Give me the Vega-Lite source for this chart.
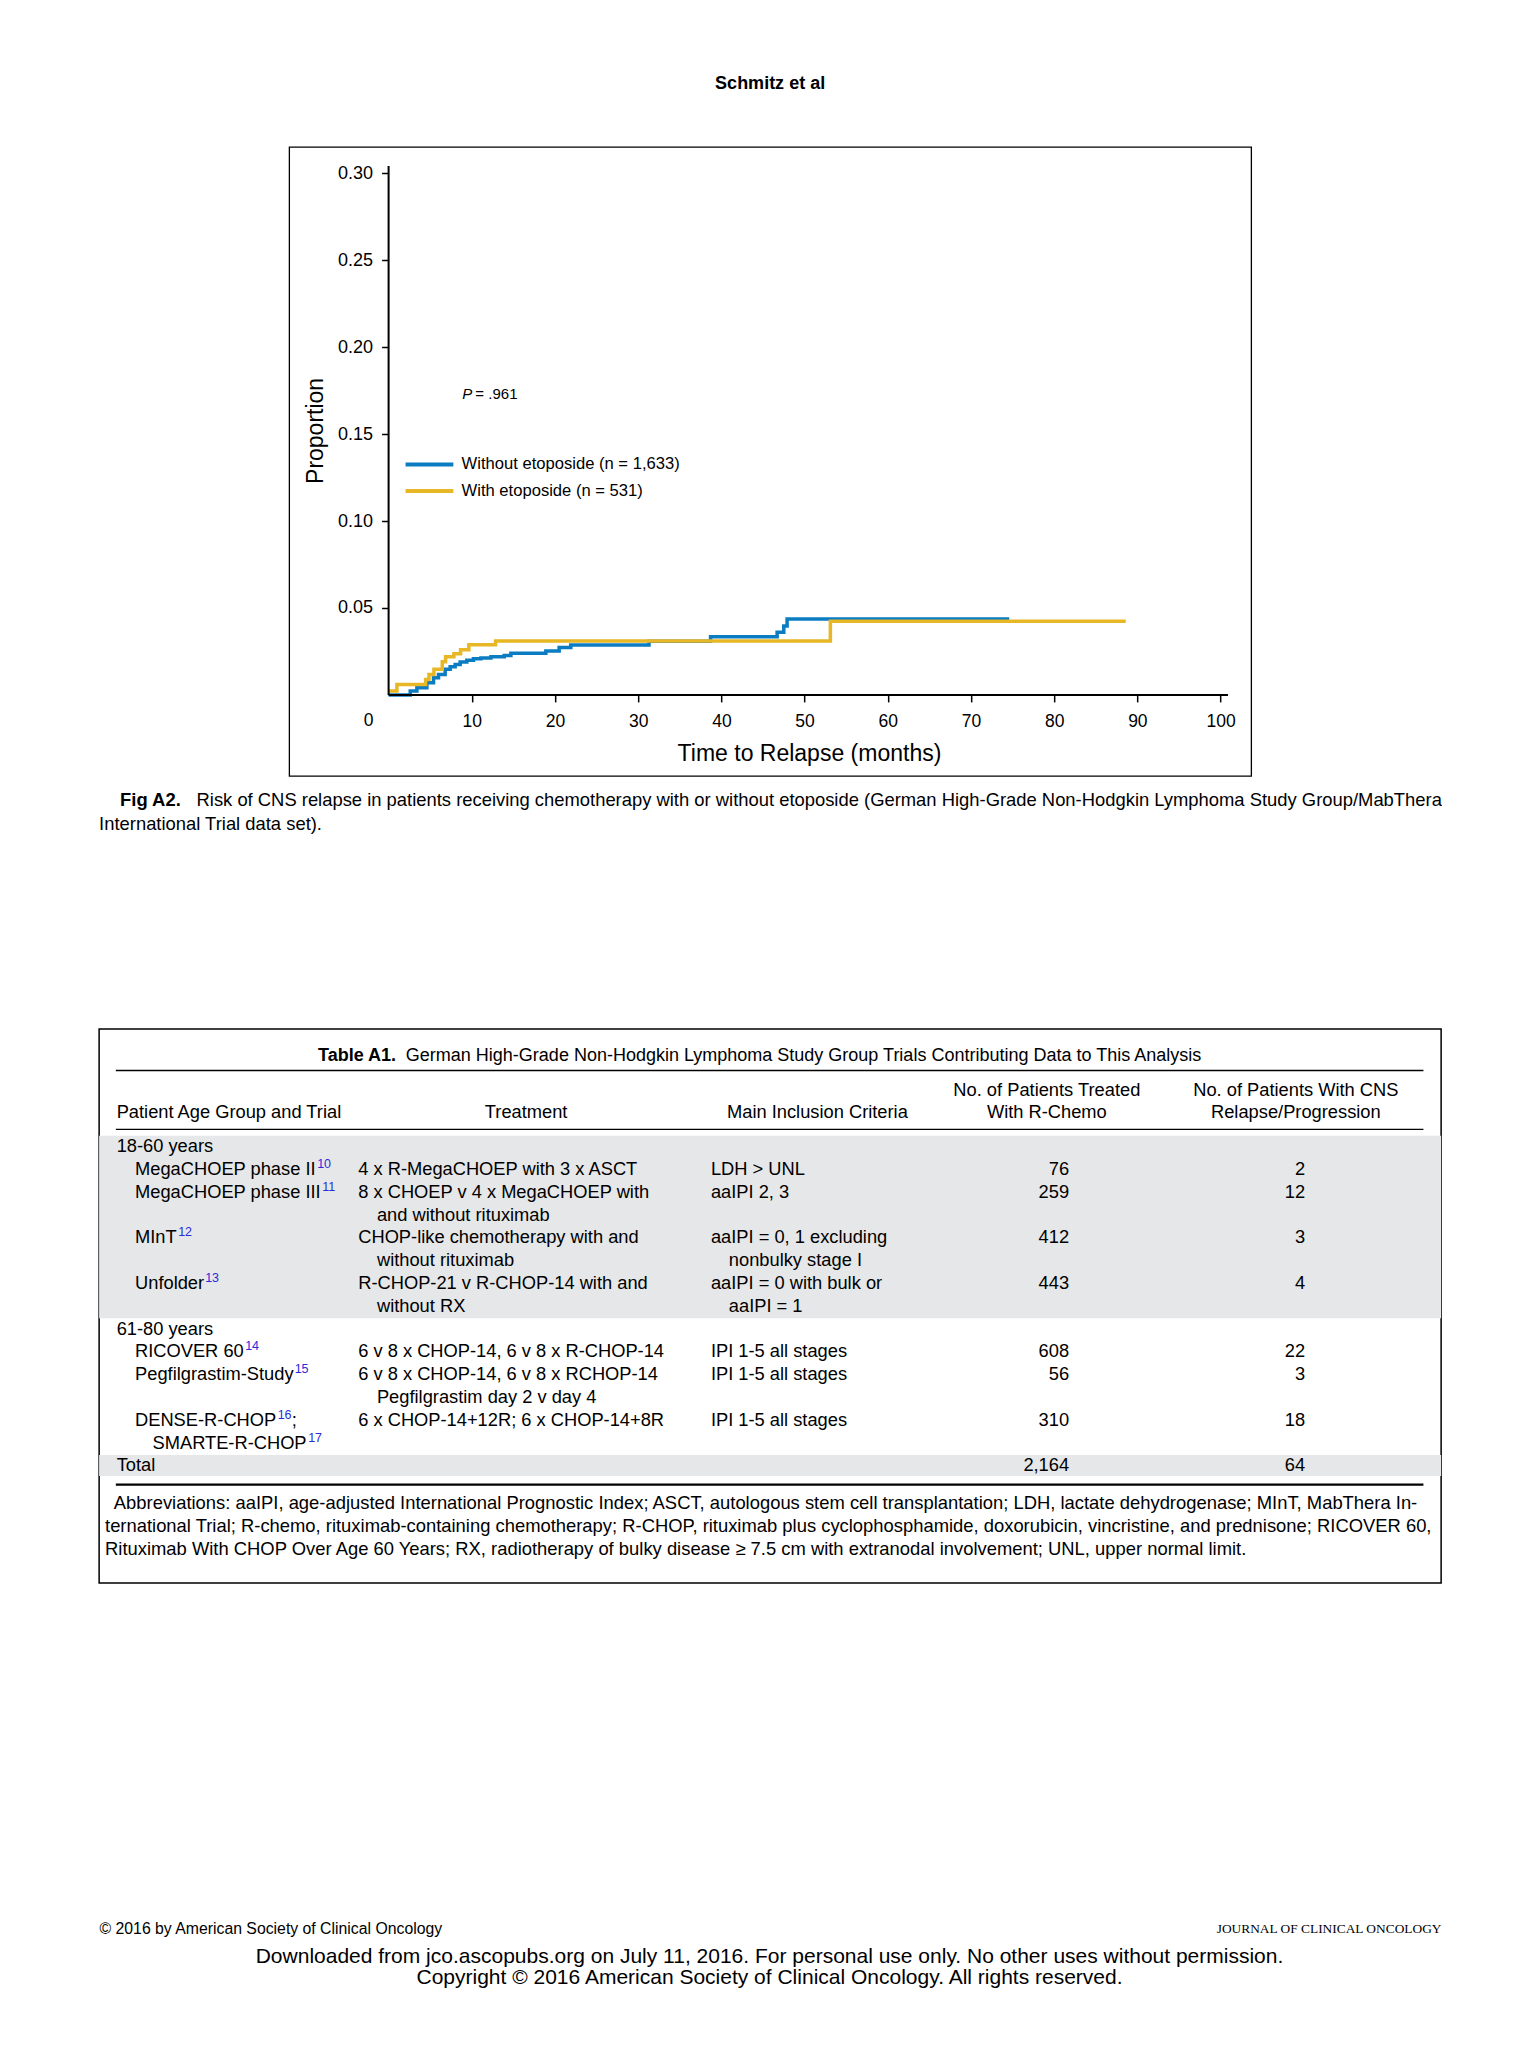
{
  "$schema": "https://vega.github.io/schema/vega-lite/v6.json",
  "background": "white",
  "padding": {"left": 98, "top": 75, "right": 0, "bottom": 0},
  "title": {"text": "Schmitz et al", "font": "Liberation Sans", "fontSize": 18, "fontWeight": "bold", "anchor": "middle", "offset": 53, "color": "black"},
  "spacing": 0,
  "center": true,
  "datasets": {
    "km": [
      {"group": "without", "month": 0, "p": 0},
      {"group": "without", "month": 2.6, "p": 0.0022},
      {"group": "without", "month": 3.4, "p": 0.0041},
      {"group": "without", "month": 4.6, "p": 0.007},
      {"group": "without", "month": 5.4, "p": 0.0099},
      {"group": "without", "month": 6.0, "p": 0.0118},
      {"group": "without", "month": 6.8, "p": 0.0147},
      {"group": "without", "month": 7.4, "p": 0.0162},
      {"group": "without", "month": 8.0, "p": 0.0175},
      {"group": "without", "month": 8.6, "p": 0.0189},
      {"group": "without", "month": 9.4, "p": 0.02},
      {"group": "without", "month": 10.2, "p": 0.0208},
      {"group": "without", "month": 11.1, "p": 0.0212},
      {"group": "without", "month": 12.3, "p": 0.022},
      {"group": "without", "month": 13.9, "p": 0.0227},
      {"group": "without", "month": 14.7, "p": 0.0239},
      {"group": "without", "month": 18.9, "p": 0.0252},
      {"group": "without", "month": 20.5, "p": 0.0272},
      {"group": "without", "month": 21.9, "p": 0.0287},
      {"group": "without", "month": 31.3, "p": 0.0308},
      {"group": "without", "month": 38.7, "p": 0.0335},
      {"group": "without", "month": 46.7, "p": 0.0361},
      {"group": "without", "month": 47.5, "p": 0.0396},
      {"group": "without", "month": 47.9, "p": 0.0437},
      {"group": "without", "month": 74.6, "p": 0.0437},
      {"group": "with", "month": 0, "p": 0.0022},
      {"group": "with", "month": 1.0, "p": 0.006},
      {"group": "with", "month": 4.45, "p": 0.0089},
      {"group": "with", "month": 4.85, "p": 0.0118},
      {"group": "with", "month": 5.45, "p": 0.0147},
      {"group": "with", "month": 6.45, "p": 0.019},
      {"group": "with", "month": 6.85, "p": 0.022},
      {"group": "with", "month": 7.85, "p": 0.0237},
      {"group": "with", "month": 8.65, "p": 0.026},
      {"group": "with", "month": 9.65, "p": 0.0289},
      {"group": "with", "month": 12.86, "p": 0.031},
      {"group": "with", "month": 53.1, "p": 0.0423},
      {"group": "with", "month": 88.6, "p": 0.0423}
    ],
    "caption": [
      {"line": 1, "part": "bold", "text": "Fig A2."},
      {"line": 1, "part": "lead", "text": "Risk of CNS relapse in patients receiving chemotherapy with or without etoposide (German High-Grade Non-Hodgkin Lymphoma Study Group/MabThera"},
      {"line": 2, "part": "rest", "text": "International Trial data set)."}
    ],
    "footer": [
      {"line": 1, "part": "left", "text": "© 2016 by American Society of Clinical Oncology"},
      {"line": 1, "part": "right", "text": "JOURNAL OF CLINICAL ONCOLOGY"},
      {"line": 2, "part": "center", "text": "Downloaded from jco.ascopubs.org on July 11, 2016. For personal use only. No other uses without permission."},
      {"line": 3, "part": "center", "text": "Copyright © 2016 American Society of Clinical Oncology. All rights reserved."}
    ],
    "table": [
      {"line": 0, "col": "title_b", "text": "Table A1."},
      {"line": 0, "col": "title", "text": "German High-Grade Non-Hodgkin Lymphoma Study Group Trials Contributing Data to This Analysis"},
      {"line": 2, "col": "h_n", "text": "No. of Patients Treated"},
      {"line": 2, "col": "h_cns", "text": "No. of Patients With CNS"},
      {"line": 3, "col": "h_age", "text": "Patient Age Group and Trial"},
      {"line": 3, "col": "h_treat", "text": "Treatment"},
      {"line": 3, "col": "h_crit", "text": "Main Inclusion Criteria"},
      {"line": 3, "col": "h_n", "text": "With R-Chemo"},
      {"line": 3, "col": "h_cns", "text": "Relapse/Progression"},
      {"line": 4, "col": "age", "text": "18-60 years"},
      {"line": 5, "col": "trial", "text": "MegaCHOEP phase II"},
      {"line": 5, "col": "sup", "text": "10"},
      {"line": 5, "col": "treat", "text": "4 x R-MegaCHOEP with 3 x ASCT"},
      {"line": 5, "col": "crit", "text": "LDH > UNL"},
      {"line": 5, "col": "n", "text": "76"},
      {"line": 5, "col": "cns", "text": "2"},
      {"line": 6, "col": "trial", "text": "MegaCHOEP phase III"},
      {"line": 6, "col": "sup", "text": "11"},
      {"line": 6, "col": "treat", "text": "8 x CHOEP v 4 x MegaCHOEP with"},
      {"line": 6, "col": "crit", "text": "aaIPI 2, 3"},
      {"line": 6, "col": "n", "text": "259"},
      {"line": 6, "col": "cns", "text": "12"},
      {"line": 7, "col": "treat2", "text": "and without rituximab"},
      {"line": 8, "col": "trial", "text": "MInT"},
      {"line": 8, "col": "sup", "text": "12"},
      {"line": 8, "col": "treat", "text": "CHOP-like chemotherapy with and"},
      {"line": 8, "col": "crit", "text": "aaIPI = 0, 1 excluding"},
      {"line": 8, "col": "n", "text": "412"},
      {"line": 8, "col": "cns", "text": "3"},
      {"line": 9, "col": "treat2", "text": "without rituximab"},
      {"line": 9, "col": "crit2", "text": "nonbulky stage I"},
      {"line": 10, "col": "trial", "text": "Unfolder"},
      {"line": 10, "col": "sup", "text": "13"},
      {"line": 10, "col": "treat", "text": "R-CHOP-21 v R-CHOP-14 with and"},
      {"line": 10, "col": "crit", "text": "aaIPI = 0 with bulk or"},
      {"line": 10, "col": "n", "text": "443"},
      {"line": 10, "col": "cns", "text": "4"},
      {"line": 11, "col": "treat2", "text": "without RX"},
      {"line": 11, "col": "crit2", "text": "aaIPI = 1"},
      {"line": 12, "col": "age", "text": "61-80 years"},
      {"line": 13, "col": "trial", "text": "RICOVER 60"},
      {"line": 13, "col": "sup", "text": "14"},
      {"line": 13, "col": "treat", "text": "6 v 8 x CHOP-14, 6 v 8 x R-CHOP-14"},
      {"line": 13, "col": "crit", "text": "IPI 1-5 all stages"},
      {"line": 13, "col": "n", "text": "608"},
      {"line": 13, "col": "cns", "text": "22"},
      {"line": 14, "col": "trial", "text": "Pegfilgrastim-Study"},
      {"line": 14, "col": "sup", "text": "15"},
      {"line": 14, "col": "treat", "text": "6 v 8 x CHOP-14, 6 v 8 x RCHOP-14"},
      {"line": 14, "col": "crit", "text": "IPI 1-5 all stages"},
      {"line": 14, "col": "n", "text": "56"},
      {"line": 14, "col": "cns", "text": "3"},
      {"line": 15, "col": "treat2", "text": "Pegfilgrastim day 2 v day 4"},
      {"line": 16, "col": "trial", "text": "DENSE-R-CHOP"},
      {"line": 16, "col": "sup", "text": "16"},
      {"line": 16, "col": "semi", "text": ";"},
      {"line": 16, "col": "treat", "text": "6 x CHOP-14+12R; 6 x CHOP-14+8R"},
      {"line": 16, "col": "crit", "text": "IPI 1-5 all stages"},
      {"line": 16, "col": "n", "text": "310"},
      {"line": 16, "col": "cns", "text": "18"},
      {"line": 17, "col": "trial2", "text": "SMARTE-R-CHOP"},
      {"line": 17, "col": "sup", "text": "17"},
      {"line": 18, "col": "age", "text": "Total"},
      {"line": 18, "col": "n", "text": "2,164"},
      {"line": 18, "col": "cns", "text": "64"},
      {"line": 20, "col": "abbr1", "text": "Abbreviations: aaIPI, age-adjusted International Prognostic Index; ASCT, autologous stem cell transplantation; LDH, lactate dehydrogenase; MInT, MabThera In-"},
      {"line": 21, "col": "abbr", "text": "ternational Trial; R-chemo, rituximab-containing chemotherapy; R-CHOP, rituximab plus cyclophosphamide, doxorubicin, vincristine, and prednisone; RICOVER 60,"},
      {"line": 22, "col": "abbr", "text": "Rituximab With CHOP Over Age 60 Years; RX, radiotherapy of bulky disease ≥ 7.5 cm with extranodal involvement; UNL, upper normal limit."}
    ]
  },
  "vconcat": [
    {
      "width": 962,
      "height": 629,
      "view": {"stroke": "black", "strokeWidth": 1.3},
      "layer": [
        {
          "data": {"name": "km"},
          "mark": {"type": "line", "interpolate": "step-after", "strokeWidth": 3.5},
          "encoding": {
            "x": {
              "field": "month", "type": "quantitative",
              "scale": {"domain": [-11.95, 103.68], "nice": false, "zero": false},
              "axis": {
                "orient": "bottom", "offset": -81.1, "values": [10, 20, 30, 40, 50, 60, 70, 80, 90, 100],
                "domain": false, "grid": false, "tickSize": 7, "tickWidth": 1.5, "tickColor": "black",
                "labelFontSize": 17.5, "labelPadding": 10.5, "labelColor": "black", "labelFlush": false,
                "title": "Time to Relapse (months)", "titleFontSize": 23, "titleFontWeight": "normal", "titleColor": "black",
                "titleX": 519.8, "titleY": 59, "titleBaseline": "middle", "titleAlign": "center"
              }
            },
            "y": {
              "field": "p", "type": "quantitative",
              "scale": {"domain": [-0.04666, 0.3152], "nice": false, "zero": false},
              "axis": {
                "orient": "left", "offset": -99.4, "values": [0.05, 0.1, 0.15, 0.2, 0.25, 0.3], "format": ".2f",
                "domain": false, "grid": false, "tickSize": 7, "tickWidth": 1.5, "tickColor": "black",
                "labelFontSize": 18, "labelPadding": 9, "labelColor": "black",
                "title": "Proportion", "titleFontSize": 23, "titleFontWeight": "normal", "titleColor": "black",
                "titleX": -73.3, "titleY": 283.4, "titleAngle": 270, "titleBaseline": "middle", "titleAlign": "center"
              }
            },
            "color": {"field": "group", "type": "nominal", "scale": {"domain": ["without", "with"], "range": ["#0b7cc2", "#e8b725"]}, "legend": null}
          }
        },
        {
          "data": {"values": [{}]},
          "mark": {"type": "rule", "color": "black", "strokeWidth": 2},
          "encoding": {
            "x": {"datum": 0, "type": "quantitative", "scale": {"domain": [-11.95, 103.68], "nice": false, "zero": false}},
            "x2": {"datum": 100.9},
            "y": {"datum": 0, "type": "quantitative", "scale": {"domain": [-0.04666, 0.3152], "nice": false, "zero": false}}
          }
        },
        {
          "data": {"values": [{}]},
          "mark": {"type": "rule", "color": "black", "strokeWidth": 2},
          "encoding": {
            "x": {"datum": 0, "type": "quantitative", "scale": {"domain": [-11.95, 103.68], "nice": false, "zero": false}},
            "y": {"datum": 0, "type": "quantitative", "scale": {"domain": [-0.04666, 0.3152], "nice": false, "zero": false}},
            "y2": {"datum": 0.3043}
          }
        },
        {
          "data": {"values": [{}]},
          "mark": {"type": "text", "align": "center", "baseline": "middle", "fontSize": 17.5, "dx": -20, "dy": 26.6, "text": "0"},
          "encoding": {
            "x": {"datum": 0, "type": "quantitative", "scale": {"domain": [-11.95, 103.68], "nice": false, "zero": false}},
            "y": {"datum": 0, "type": "quantitative", "scale": {"domain": [-0.04666, 0.3152], "nice": false, "zero": false}}
          }
        },
        {
          "data": {"values": [{}]},
          "mark": {"type": "rule", "color": "#0b7cc2", "strokeWidth": 4},
          "encoding": {
            "x": {"datum": 2.04, "type": "quantitative", "scale": {"domain": [-11.95, 103.68], "nice": false, "zero": false}},
            "x2": {"datum": 7.78},
            "y": {"datum": 0.1326, "type": "quantitative", "scale": {"domain": [-0.04666, 0.3152], "nice": false, "zero": false}}
          }
        },
        {
          "data": {"values": [{}]},
          "mark": {"type": "rule", "color": "#e8b725", "strokeWidth": 4},
          "encoding": {
            "x": {"datum": 2.04, "type": "quantitative", "scale": {"domain": [-11.95, 103.68], "nice": false, "zero": false}},
            "x2": {"datum": 7.78},
            "y": {"datum": 0.1173, "type": "quantitative", "scale": {"domain": [-0.04666, 0.3152], "nice": false, "zero": false}}
          }
        },
        {
          "data": {"values": [{}]},
          "mark": {"type": "text", "align": "left", "baseline": "middle", "fontSize": 16.6, "text": "Without etoposide (n = 1,633)"},
          "encoding": {
            "x": {"datum": 8.77, "type": "quantitative", "scale": {"domain": [-11.95, 103.68], "nice": false, "zero": false}},
            "y": {"datum": 0.1326, "type": "quantitative", "scale": {"domain": [-0.04666, 0.3152], "nice": false, "zero": false}}
          }
        },
        {
          "data": {"values": [{}]},
          "mark": {"type": "text", "align": "left", "baseline": "middle", "fontSize": 16.6, "text": "With etoposide (n = 531)"},
          "encoding": {
            "x": {"datum": 8.77, "type": "quantitative", "scale": {"domain": [-11.95, 103.68], "nice": false, "zero": false}},
            "y": {"datum": 0.1173, "type": "quantitative", "scale": {"domain": [-0.04666, 0.3152], "nice": false, "zero": false}}
          }
        },
        {
          "data": {"values": [{}]},
          "mark": {"type": "text", "align": "left", "baseline": "middle", "fontSize": 15, "fontStyle": "italic", "text": "P"},
          "encoding": {
            "x": {"datum": 8.86, "type": "quantitative", "scale": {"domain": [-11.95, 103.68], "nice": false, "zero": false}},
            "y": {"datum": 0.1729, "type": "quantitative", "scale": {"domain": [-0.04666, 0.3152], "nice": false, "zero": false}}
          }
        },
        {
          "data": {"values": [{}]},
          "mark": {"type": "text", "align": "left", "baseline": "middle", "fontSize": 15, "text": "= .961"},
          "encoding": {
            "x": {"datum": 10.43, "type": "quantitative", "scale": {"domain": [-11.95, 103.68], "nice": false, "zero": false}},
            "y": {"datum": 0.1729, "type": "quantitative", "scale": {"domain": [-0.04666, 0.3152], "nice": false, "zero": false}}
          }
        }
      ]
    },
    {
      "width": 1342,
      "height": 251,
      "data": {"name": "caption"},
      "layer": [
        {
          "transform": [{"filter": "datum.part === 'bold'"}],
          "mark": {"type": "text", "align": "left", "baseline": "middle", "fontSize": 18.4, "fontWeight": "bold"},
          "encoding": {
            "x": {"datum": 21, "type": "quantitative", "scale": {"domain": [0, 1342], "nice": false, "zero": false}, "axis": null},
            "y": {"field": "line", "type": "quantitative", "scale": {"domain": [0, 10.73], "nice": false, "zero": false, "reverse": true}, "axis": null},
            "text": {"field": "text"}
          }
        },
        {
          "transform": [{"filter": "datum.part === 'lead'"}],
          "mark": {"type": "text", "align": "left", "baseline": "middle", "fontSize": 18.4},
          "encoding": {
            "x": {"datum": 97.4, "type": "quantitative", "scale": {"domain": [0, 1342], "nice": false, "zero": false}, "axis": null},
            "y": {"field": "line", "type": "quantitative", "scale": {"domain": [0, 10.73], "nice": false, "zero": false, "reverse": true}, "axis": null},
            "text": {"field": "text"}
          }
        },
        {
          "transform": [{"filter": "datum.part === 'rest'"}],
          "mark": {"type": "text", "align": "left", "baseline": "middle", "fontSize": 18.4},
          "encoding": {
            "x": {"datum": 0, "type": "quantitative", "scale": {"domain": [0, 1342], "nice": false, "zero": false}, "axis": null},
            "y": {"field": "line", "type": "quantitative", "scale": {"domain": [0, 10.73], "nice": false, "zero": false, "reverse": true}, "axis": null},
            "text": {"field": "text"}
          }
        }
      ]
    },
    {
      "width": 1342,
      "height": 554,
      "view": {"stroke": "black", "strokeWidth": 1.5},
      "layer": [
        {
          "data": {"values": [{}]},
          "mark": {"type": "rect", "color": "#e6e7e8"},
          "encoding": {
            "x": {"datum": 0, "type": "quantitative", "scale": {"domain": [0, 1342], "nice": false, "zero": false}, "axis": null},
            "x2": {"datum": 1342},
            "y": {"datum": 3.5, "type": "quantitative", "scale": {"domain": [-1.184, 23.114], "nice": false, "zero": false, "reverse": true}, "axis": null},
            "y2": {"datum": 11.5}
          }
        },
        {
          "data": {"values": [{}]},
          "mark": {"type": "rect", "color": "#e6e7e8"},
          "encoding": {
            "x": {"datum": 0, "type": "quantitative", "scale": {"domain": [0, 1342], "nice": false, "zero": false}, "axis": null},
            "x2": {"datum": 1342},
            "y": {"datum": 17.5, "type": "quantitative", "scale": {"domain": [-1.184, 23.114], "nice": false, "zero": false, "reverse": true}, "axis": null},
            "y2": {"datum": 18.42}
          }
        },
        {
          "data": {"values": [{}]},
          "mark": {"type": "rule", "color": "black", "strokeWidth": 1.5},
          "encoding": {
            "x": {"datum": 16.7, "type": "quantitative", "scale": {"domain": [0, 1342], "nice": false, "zero": false}, "axis": null},
            "x2": {"datum": 1324.3},
            "y": {"datum": 0.64, "type": "quantitative", "scale": {"domain": [-1.184, 23.114], "nice": false, "zero": false, "reverse": true}, "axis": null}
          }
        },
        {
          "data": {"values": [{}]},
          "mark": {"type": "rule", "color": "black", "strokeWidth": 1.3},
          "encoding": {
            "x": {"datum": 16.7, "type": "quantitative", "scale": {"domain": [0, 1342], "nice": false, "zero": false}, "axis": null},
            "x2": {"datum": 1324.3},
            "y": {"datum": 3.22, "type": "quantitative", "scale": {"domain": [-1.184, 23.114], "nice": false, "zero": false, "reverse": true}, "axis": null}
          }
        },
        {
          "data": {"values": [{}]},
          "mark": {"type": "rule", "color": "black", "strokeWidth": 2.2},
          "encoding": {
            "x": {"datum": 16.7, "type": "quantitative", "scale": {"domain": [0, 1342], "nice": false, "zero": false}, "axis": null},
            "x2": {"datum": 1324.3},
            "y": {"datum": 18.8, "type": "quantitative", "scale": {"domain": [-1.184, 23.114], "nice": false, "zero": false, "reverse": true}, "axis": null}
          }
        },
        {
          "data": {"name": "table"},
          "transform": [{"filter": "datum.col === 'title_b'"}],
          "mark": {"type": "text", "align": "right", "baseline": "middle", "fontSize": 18, "fontWeight": "bold"},
          "encoding": {
            "x": {"datum": 297, "type": "quantitative", "scale": {"domain": [0, 1342], "nice": false, "zero": false}, "axis": null},
            "y": {"field": "line", "type": "quantitative", "scale": {"domain": [-1.184, 23.114], "nice": false, "zero": false, "reverse": true}, "axis": null},
            "text": {"field": "text"}
          }
        },
        {
          "data": {"name": "table"},
          "transform": [{"filter": "datum.col === 'title'"}],
          "mark": {"type": "text", "align": "left", "baseline": "middle", "fontSize": 18},
          "encoding": {
            "x": {"datum": 306.7, "type": "quantitative", "scale": {"domain": [0, 1342], "nice": false, "zero": false}, "axis": null},
            "y": {"field": "line", "type": "quantitative", "scale": {"domain": [-1.184, 23.114], "nice": false, "zero": false, "reverse": true}, "axis": null},
            "text": {"field": "text"}
          }
        },
        {
          "data": {"name": "table"},
          "transform": [{"filter": "datum.col === 'h_age'"}],
          "mark": {"type": "text", "align": "left", "baseline": "middle", "fontSize": 18.3, "dy": -11},
          "encoding": {
            "x": {"datum": 17.5, "type": "quantitative", "scale": {"domain": [0, 1342], "nice": false, "zero": false}, "axis": null},
            "y": {"field": "line", "type": "quantitative", "scale": {"domain": [-1.184, 23.114], "nice": false, "zero": false, "reverse": true}, "axis": null},
            "text": {"field": "text"}
          }
        },
        {
          "data": {"name": "table"},
          "transform": [{"filter": "datum.col === 'h_treat'"}],
          "mark": {"type": "text", "align": "center", "baseline": "middle", "fontSize": 18.3, "dy": -11},
          "encoding": {
            "x": {"datum": 427, "type": "quantitative", "scale": {"domain": [0, 1342], "nice": false, "zero": false}, "axis": null},
            "y": {"field": "line", "type": "quantitative", "scale": {"domain": [-1.184, 23.114], "nice": false, "zero": false, "reverse": true}, "axis": null},
            "text": {"field": "text"}
          }
        },
        {
          "data": {"name": "table"},
          "transform": [{"filter": "datum.col === 'h_crit'"}],
          "mark": {"type": "text", "align": "center", "baseline": "middle", "fontSize": 18.3, "dy": -11},
          "encoding": {
            "x": {"datum": 718.3, "type": "quantitative", "scale": {"domain": [0, 1342], "nice": false, "zero": false}, "axis": null},
            "y": {"field": "line", "type": "quantitative", "scale": {"domain": [-1.184, 23.114], "nice": false, "zero": false, "reverse": true}, "axis": null},
            "text": {"field": "text"}
          }
        },
        {
          "data": {"name": "table"},
          "transform": [{"filter": "datum.col === 'h_n'"}],
          "mark": {"type": "text", "align": "center", "baseline": "middle", "fontSize": 18.3, "dy": -11},
          "encoding": {
            "x": {"datum": 947.7, "type": "quantitative", "scale": {"domain": [0, 1342], "nice": false, "zero": false}, "axis": null},
            "y": {"field": "line", "type": "quantitative", "scale": {"domain": [-1.184, 23.114], "nice": false, "zero": false, "reverse": true}, "axis": null},
            "text": {"field": "text"}
          }
        },
        {
          "data": {"name": "table"},
          "transform": [{"filter": "datum.col === 'h_cns'"}],
          "mark": {"type": "text", "align": "center", "baseline": "middle", "fontSize": 18.3, "dy": -11},
          "encoding": {
            "x": {"datum": 1196.7, "type": "quantitative", "scale": {"domain": [0, 1342], "nice": false, "zero": false}, "axis": null},
            "y": {"field": "line", "type": "quantitative", "scale": {"domain": [-1.184, 23.114], "nice": false, "zero": false, "reverse": true}, "axis": null},
            "text": {"field": "text"}
          }
        },
        {
          "data": {"name": "table"},
          "transform": [{"filter": "datum.col === 'age'"}],
          "mark": {"type": "text", "align": "left", "baseline": "middle", "fontSize": 18.3},
          "encoding": {
            "x": {"datum": 17.5, "type": "quantitative", "scale": {"domain": [0, 1342], "nice": false, "zero": false}, "axis": null},
            "y": {"field": "line", "type": "quantitative", "scale": {"domain": [-1.184, 23.114], "nice": false, "zero": false, "reverse": true}, "axis": null},
            "text": {"field": "text"}
          }
        },
        {
          "data": {"name": "table"},
          "transform": [{"filter": "datum.col === 'trial'"}],
          "mark": {"type": "text", "align": "left", "baseline": "middle", "fontSize": 18.3},
          "encoding": {
            "x": {"datum": 35.9, "type": "quantitative", "scale": {"domain": [0, 1342], "nice": false, "zero": false}, "axis": null},
            "y": {"field": "line", "type": "quantitative", "scale": {"domain": [-1.184, 23.114], "nice": false, "zero": false, "reverse": true}, "axis": null},
            "text": {"field": "text"}
          }
        },
        {
          "data": {"name": "table"},
          "transform": [{"filter": "datum.col === 'trial2'"}],
          "mark": {"type": "text", "align": "left", "baseline": "middle", "fontSize": 18.3},
          "encoding": {
            "x": {"datum": 53.4, "type": "quantitative", "scale": {"domain": [0, 1342], "nice": false, "zero": false}, "axis": null},
            "y": {"field": "line", "type": "quantitative", "scale": {"domain": [-1.184, 23.114], "nice": false, "zero": false, "reverse": true}, "axis": null},
            "text": {"field": "text"}
          }
        },
        {
          "data": {"name": "table"},
          "transform": [{"filter": "datum.col === 'semi'"}],
          "mark": {"type": "text", "align": "left", "baseline": "middle", "fontSize": 18.3},
          "encoding": {
            "x": {"datum": 192.5, "type": "quantitative", "scale": {"domain": [0, 1342], "nice": false, "zero": false}, "axis": null},
            "y": {"field": "line", "type": "quantitative", "scale": {"domain": [-1.184, 23.114], "nice": false, "zero": false, "reverse": true}, "axis": null},
            "text": {"field": "text"}
          }
        },
        {
          "data": {"name": "table"},
          "transform": [{"filter": "datum.col === 'sup' && datum.line === 5"}],
          "mark": {"type": "text", "align": "left", "baseline": "middle", "fontSize": 12.5, "dy": -6, "color": "#2b2bd9"},
          "encoding": {
            "x": {"datum": 218, "type": "quantitative", "scale": {"domain": [0, 1342], "nice": false, "zero": false}, "axis": null},
            "y": {"field": "line", "type": "quantitative", "scale": {"domain": [-1.184, 23.114], "nice": false, "zero": false, "reverse": true}, "axis": null},
            "text": {"field": "text"}
          }
        },
        {
          "data": {"name": "table"},
          "transform": [{"filter": "datum.col === 'sup' && datum.line === 6"}],
          "mark": {"type": "text", "align": "left", "baseline": "middle", "fontSize": 12.5, "dy": -6, "color": "#2b2bd9"},
          "encoding": {
            "x": {"datum": 223, "type": "quantitative", "scale": {"domain": [0, 1342], "nice": false, "zero": false}, "axis": null},
            "y": {"field": "line", "type": "quantitative", "scale": {"domain": [-1.184, 23.114], "nice": false, "zero": false, "reverse": true}, "axis": null},
            "text": {"field": "text"}
          }
        },
        {
          "data": {"name": "table"},
          "transform": [{"filter": "datum.col === 'sup' && datum.line === 8"}],
          "mark": {"type": "text", "align": "left", "baseline": "middle", "fontSize": 12.5, "dy": -6, "color": "#2b2bd9"},
          "encoding": {
            "x": {"datum": 79, "type": "quantitative", "scale": {"domain": [0, 1342], "nice": false, "zero": false}, "axis": null},
            "y": {"field": "line", "type": "quantitative", "scale": {"domain": [-1.184, 23.114], "nice": false, "zero": false, "reverse": true}, "axis": null},
            "text": {"field": "text"}
          }
        },
        {
          "data": {"name": "table"},
          "transform": [{"filter": "datum.col === 'sup' && datum.line === 10"}],
          "mark": {"type": "text", "align": "left", "baseline": "middle", "fontSize": 12.5, "dy": -6, "color": "#2b2bd9"},
          "encoding": {
            "x": {"datum": 106, "type": "quantitative", "scale": {"domain": [0, 1342], "nice": false, "zero": false}, "axis": null},
            "y": {"field": "line", "type": "quantitative", "scale": {"domain": [-1.184, 23.114], "nice": false, "zero": false, "reverse": true}, "axis": null},
            "text": {"field": "text"}
          }
        },
        {
          "data": {"name": "table"},
          "transform": [{"filter": "datum.col === 'sup' && datum.line === 13"}],
          "mark": {"type": "text", "align": "left", "baseline": "middle", "fontSize": 12.5, "dy": -6, "color": "#2b2bd9"},
          "encoding": {
            "x": {"datum": 146, "type": "quantitative", "scale": {"domain": [0, 1342], "nice": false, "zero": false}, "axis": null},
            "y": {"field": "line", "type": "quantitative", "scale": {"domain": [-1.184, 23.114], "nice": false, "zero": false, "reverse": true}, "axis": null},
            "text": {"field": "text"}
          }
        },
        {
          "data": {"name": "table"},
          "transform": [{"filter": "datum.col === 'sup' && datum.line === 14"}],
          "mark": {"type": "text", "align": "left", "baseline": "middle", "fontSize": 12.5, "dy": -6, "color": "#2b2bd9"},
          "encoding": {
            "x": {"datum": 195.5, "type": "quantitative", "scale": {"domain": [0, 1342], "nice": false, "zero": false}, "axis": null},
            "y": {"field": "line", "type": "quantitative", "scale": {"domain": [-1.184, 23.114], "nice": false, "zero": false, "reverse": true}, "axis": null},
            "text": {"field": "text"}
          }
        },
        {
          "data": {"name": "table"},
          "transform": [{"filter": "datum.col === 'sup' && datum.line === 16"}],
          "mark": {"type": "text", "align": "left", "baseline": "middle", "fontSize": 12.5, "dy": -6, "color": "#2b2bd9"},
          "encoding": {
            "x": {"datum": 178.5, "type": "quantitative", "scale": {"domain": [0, 1342], "nice": false, "zero": false}, "axis": null},
            "y": {"field": "line", "type": "quantitative", "scale": {"domain": [-1.184, 23.114], "nice": false, "zero": false, "reverse": true}, "axis": null},
            "text": {"field": "text"}
          }
        },
        {
          "data": {"name": "table"},
          "transform": [{"filter": "datum.col === 'sup' && datum.line === 17"}],
          "mark": {"type": "text", "align": "left", "baseline": "middle", "fontSize": 12.5, "dy": -6, "color": "#2b2bd9"},
          "encoding": {
            "x": {"datum": 209, "type": "quantitative", "scale": {"domain": [0, 1342], "nice": false, "zero": false}, "axis": null},
            "y": {"field": "line", "type": "quantitative", "scale": {"domain": [-1.184, 23.114], "nice": false, "zero": false, "reverse": true}, "axis": null},
            "text": {"field": "text"}
          }
        },
        {
          "data": {"name": "table"},
          "transform": [{"filter": "datum.col === 'treat'"}],
          "mark": {"type": "text", "align": "left", "baseline": "middle", "fontSize": 18.3},
          "encoding": {
            "x": {"datum": 259.1, "type": "quantitative", "scale": {"domain": [0, 1342], "nice": false, "zero": false}, "axis": null},
            "y": {"field": "line", "type": "quantitative", "scale": {"domain": [-1.184, 23.114], "nice": false, "zero": false, "reverse": true}, "axis": null},
            "text": {"field": "text"}
          }
        },
        {
          "data": {"name": "table"},
          "transform": [{"filter": "datum.col === 'treat2'"}],
          "mark": {"type": "text", "align": "left", "baseline": "middle", "fontSize": 18.3},
          "encoding": {
            "x": {"datum": 277.8, "type": "quantitative", "scale": {"domain": [0, 1342], "nice": false, "zero": false}, "axis": null},
            "y": {"field": "line", "type": "quantitative", "scale": {"domain": [-1.184, 23.114], "nice": false, "zero": false, "reverse": true}, "axis": null},
            "text": {"field": "text"}
          }
        },
        {
          "data": {"name": "table"},
          "transform": [{"filter": "datum.col === 'crit'"}],
          "mark": {"type": "text", "align": "left", "baseline": "middle", "fontSize": 18.3},
          "encoding": {
            "x": {"datum": 611.8, "type": "quantitative", "scale": {"domain": [0, 1342], "nice": false, "zero": false}, "axis": null},
            "y": {"field": "line", "type": "quantitative", "scale": {"domain": [-1.184, 23.114], "nice": false, "zero": false, "reverse": true}, "axis": null},
            "text": {"field": "text"}
          }
        },
        {
          "data": {"name": "table"},
          "transform": [{"filter": "datum.col === 'crit2'"}],
          "mark": {"type": "text", "align": "left", "baseline": "middle", "fontSize": 18.3},
          "encoding": {
            "x": {"datum": 629.7, "type": "quantitative", "scale": {"domain": [0, 1342], "nice": false, "zero": false}, "axis": null},
            "y": {"field": "line", "type": "quantitative", "scale": {"domain": [-1.184, 23.114], "nice": false, "zero": false, "reverse": true}, "axis": null},
            "text": {"field": "text"}
          }
        },
        {
          "data": {"name": "table"},
          "transform": [{"filter": "datum.col === 'n'"}],
          "mark": {"type": "text", "align": "right", "baseline": "middle", "fontSize": 18.3},
          "encoding": {
            "x": {"datum": 970, "type": "quantitative", "scale": {"domain": [0, 1342], "nice": false, "zero": false}, "axis": null},
            "y": {"field": "line", "type": "quantitative", "scale": {"domain": [-1.184, 23.114], "nice": false, "zero": false, "reverse": true}, "axis": null},
            "text": {"field": "text"}
          }
        },
        {
          "data": {"name": "table"},
          "transform": [{"filter": "datum.col === 'cns'"}],
          "mark": {"type": "text", "align": "right", "baseline": "middle", "fontSize": 18.3},
          "encoding": {
            "x": {"datum": 1206, "type": "quantitative", "scale": {"domain": [0, 1342], "nice": false, "zero": false}, "axis": null},
            "y": {"field": "line", "type": "quantitative", "scale": {"domain": [-1.184, 23.114], "nice": false, "zero": false, "reverse": true}, "axis": null},
            "text": {"field": "text"}
          }
        },
        {
          "data": {"name": "table"},
          "transform": [{"filter": "datum.col === 'abbr1'"}],
          "mark": {"type": "text", "align": "left", "baseline": "middle", "fontSize": 18.4, "dy": -8.6},
          "encoding": {
            "x": {"datum": 14.7, "type": "quantitative", "scale": {"domain": [0, 1342], "nice": false, "zero": false}, "axis": null},
            "y": {"field": "line", "type": "quantitative", "scale": {"domain": [-1.184, 23.114], "nice": false, "zero": false, "reverse": true}, "axis": null},
            "text": {"field": "text"}
          }
        },
        {
          "data": {"name": "table"},
          "transform": [{"filter": "datum.col === 'abbr'"}],
          "mark": {"type": "text", "align": "left", "baseline": "middle", "fontSize": 18.4, "dy": -8.6},
          "encoding": {
            "x": {"datum": 5.9, "type": "quantitative", "scale": {"domain": [0, 1342], "nice": false, "zero": false}, "axis": null},
            "y": {"field": "line", "type": "quantitative", "scale": {"domain": [-1.184, 23.114], "nice": false, "zero": false, "reverse": true}, "axis": null},
            "text": {"field": "text"}
          }
        }
      ]
    },
    {
      "width": 1342,
      "height": 466,
      "data": {"name": "footer"},
      "layer": [
        {
          "transform": [{"filter": "datum.part === 'left'"}],
          "mark": {"type": "text", "align": "left", "baseline": "middle", "fontSize": 15.8, "dy": -8.5},
          "encoding": {
            "x": {"datum": 0, "type": "quantitative", "scale": {"domain": [0, 1342], "nice": false, "zero": false}, "axis": null},
            "y": {"field": "line", "type": "quantitative", "scale": {"domain": [-15.83, 6.36], "nice": false, "zero": false, "reverse": true}, "axis": null},
            "text": {"field": "text"}
          }
        },
        {
          "transform": [{"filter": "datum.part === 'right'"}],
          "mark": {"type": "text", "align": "right", "baseline": "middle", "fontSize": 13.4, "font": "Liberation Serif", "dy": -8.5},
          "encoding": {
            "x": {"datum": 1342, "type": "quantitative", "scale": {"domain": [0, 1342], "nice": false, "zero": false}, "axis": null},
            "y": {"field": "line", "type": "quantitative", "scale": {"domain": [-15.83, 6.36], "nice": false, "zero": false, "reverse": true}, "axis": null},
            "text": {"field": "text"}
          }
        },
        {
          "transform": [{"filter": "datum.part === 'center'"}],
          "mark": {"type": "text", "align": "center", "baseline": "middle", "fontSize": 21, "dy": -1},
          "encoding": {
            "x": {"datum": 670, "type": "quantitative", "scale": {"domain": [0, 1342], "nice": false, "zero": false}, "axis": null},
            "y": {"field": "line", "type": "quantitative", "scale": {"domain": [-15.83, 6.36], "nice": false, "zero": false, "reverse": true}, "axis": null},
            "text": {"field": "text"}
          }
        }
      ]
    }
  ],
  "config": {
    "font": "Liberation Sans",
    "view": {"stroke": null},
    "text": {"font": "Liberation Sans", "color": "black"},
    "axis": {"labelFont": "Liberation Sans", "titleFont": "Liberation Sans", "labelColor": "black", "titleColor": "black", "tickColor": "black"}
  }
}
